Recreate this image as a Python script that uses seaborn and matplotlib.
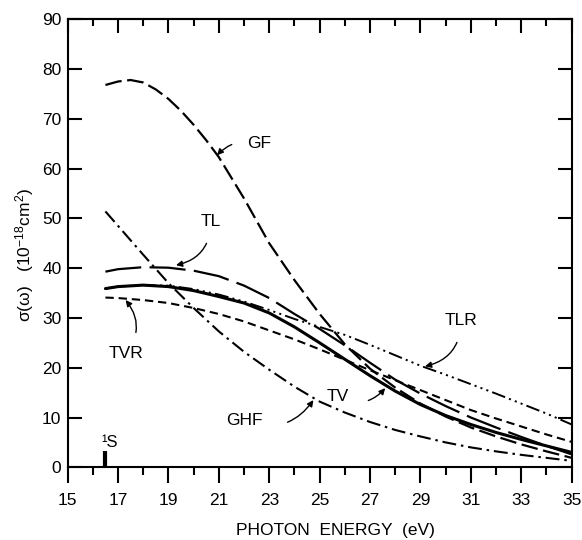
import matplotlib
matplotlib.use("Agg")
import matplotlib.pyplot as plt
import seaborn as sns
import numpy as np
import pandas as pd

# ---- data ----
energy = [16.5, 17, 18, 19, 20, 21, 22, 23, 24, 25, 26, 27, 28, 29, 30, 31, 32, 33, 34, 35]
gf_energy = [16.5, 17, 17.5, 18, 18.5, 19, 19.5, 20, 20.5, 21, 22, 23, 24, 25, 26, 27, 28, 29, 30, 31, 32, 33, 34, 35]
GF  = [76.8, 77.5, 77.8, 77.3, 75.9, 74.0, 71.6, 68.8, 65.7, 62.3, 54.0, 45.0, 37.6, 30.8, 24.7, 19.8, 16.0, 12.8, 10.2, 8.0, 6.2, 4.6, 3.2, 1.9]
TL  = [39.3, 39.8, 40.2, 40.1, 39.5, 38.4, 36.5, 34.0, 30.8, 27.8, 24.5, 21.0, 17.6, 14.8, 12.3, 10.0, 8.0, 6.1, 4.3, 2.6]
TV  = [35.9, 36.3, 36.6, 36.3, 35.5, 34.3, 33.0, 31.0, 28.2, 25.0, 21.7, 18.4, 15.3, 12.6, 10.4, 8.6, 7.0, 5.6, 4.3, 3.0]
TLR = [35.9, 36.3, 36.6, 36.5, 35.8, 34.7, 33.3, 31.6, 29.8, 28.2, 26.6, 24.6, 22.5, 20.4, 18.6, 16.7, 14.8, 12.8, 10.8, 8.6]
TVR = [34.1, 34.0, 33.6, 33.0, 32.0, 30.8, 29.3, 27.5, 25.7, 23.7, 21.6, 19.5, 17.5, 15.5, 13.5, 11.5, 9.8, 8.2, 6.6, 5.1]
GHF = [51.4, 48.5, 42.7, 37.0, 32.0, 27.3, 23.2, 19.6, 16.2, 13.2, 11.0, 9.1, 7.5, 6.2, 5.0, 4.0, 3.2, 2.5, 1.9, 1.3]

series_names = ["GF", "TL", "TV", "TLR", "TVR", "GHF"]
series_x = [gf_energy, energy, energy, energy, energy, energy]
series_values = [GF, TL, TV, TLR, TVR, GHF]

line_x = [16.5]          # 1S threshold marker
line_h = [3.2]

x_ticks = [15, 17, 19, 21, 23, 25, 27, 29, 31, 33, 35]
x_minor = [16, 18, 20, 22, 24, 26, 28, 30, 32, 34]
y_ticks = [0, 10, 20, 30, 40, 50, 60, 70, 80, 90]

# ---- style ----
sns.set_theme(style="white")
plt.rcParams["font.family"] = ["Liberation Sans", "DejaVu Sans"]
plt.rcParams["mathtext.fontset"] = "custom"
plt.rcParams["mathtext.rm"] = "Liberation Sans"
plt.rcParams["mathtext.it"] = "Liberation Sans:italic"
plt.rcParams["lines.scale_dashes"] = False
plt.rcParams["text.color"] = "black"
plt.rcParams["axes.labelcolor"] = "black"
plt.rcParams["xtick.color"] = "black"
plt.rcParams["ytick.color"] = "black"

styles = {
    "GF":  dict(lw=1.6, ls=(0, (12, 4))),
    "TL":  dict(lw=1.6, ls=(0, (26, 6))),
    "TV":  dict(lw=2.2, ls="-"),
    "TLR": dict(lw=1.4, ls=(0, (10, 3, 1.5, 3, 1.5, 3, 1.5, 3))),
    "TVR": dict(lw=1.5, ls=(0, (6, 3.5))),
    "GHF": dict(lw=1.5, ls=(0, (10, 3.5, 1.8, 3.5))),
}

df = pd.concat([pd.DataFrame({"energy": xs, "sigma": ys, "curve": name})
                for name, xs, ys in zip(series_names, series_x, series_values)],
               ignore_index=True)

fig = plt.figure(figsize=(5.82, 5.40), dpi=100)
ax = fig.add_axes([0.1162, 0.1346, 0.8661, 0.8297])

for name in series_names:
    sub = df[df["curve"] == name]
    st = styles[name]
    sns.lineplot(data=sub, x="energy", y="sigma", ax=ax, color="black",
                 linewidth=st["lw"], linestyle=st["ls"], legend=False)

ax.vlines(line_x, 0, line_h, color="black", lw=3)
ax.text(16.32, 5.0, "¹S", fontsize=12, ha="left", va="center", color="black")

ax.set_xlim(15, 35)
ax.set_ylim(0, 90)

for sp in ax.spines.values():
    sp.set_color("black")
    sp.set_linewidth(1.5)

ax.set_xticks(x_ticks)
ax.set_xticks(x_minor, minor=True)
ax.set_yticks(y_ticks)
ax.tick_params(axis="x", which="major", direction="out", length=11.5, width=1.5,
               pad=7, labelsize=12.5, colors="black", bottom=True, top=False)
ax.tick_params(axis="x", which="minor", direction="out", length=5.5, width=1.5,
               bottom=True, top=False)
ax.tick_params(axis="y", which="major", direction="in", length=10, width=1.5,
               pad=4.5, labelsize=12.5, colors="black", left=True, right=True)

top = ax.secondary_xaxis("top")
top.set_xticks(x_ticks)
top.set_xticks(x_minor, minor=True)
top.tick_params(which="major", direction="in", length=10, width=1.5, labeltop=False)
top.tick_params(which="minor", direction="in", length=5, width=1.5, labeltop=False)
top.spines["top"].set_linewidth(1.5)

ax.set_xlabel("PHOTON  ENERGY  (eV)", fontsize=12.5, color="black")
ax.xaxis.set_label_coords(0.532, -0.14)
ax.xaxis.label.set_va("center")
ax.set_ylabel(r"σ(ω)   (10$^{\mathregular{-18}}$cm$^{\mathregular{2}}$)", fontsize=12.5, color="black")
ax.yaxis.set_label_coords(-0.0845, 0.474)
ax.yaxis.label.set_va("center")

arrow = dict(arrowstyle="-|>", color="black", lw=1.0, mutation_scale=9)
lab = dict(fontsize=12.5, ha="center", va="center", color="black")
ax.annotate("GF", xy=(20.93, 62.7), xytext=(22.6, 65.1), **lab,
            arrowprops=dict(connectionstyle="arc3,rad=0.3", shrinkA=9, shrinkB=0, **arrow))
ax.annotate("TL", xy=(19.3, 40.6), xytext=(20.68, 49.3), **lab,
            arrowprops=dict(connectionstyle="arc3,rad=-0.4", shrinkA=8, shrinkB=0, **arrow))
ax.annotate("TVR", xy=(17.3, 33.6), xytext=(17.3, 22.8), **lab,
            arrowprops=dict(connectionstyle="arc3,rad=0.4", shrinkA=8, shrinkB=0, **arrow))
ax.annotate("TLR", xy=(29.18, 20.3), xytext=(30.6, 29.4), **lab,
            arrowprops=dict(connectionstyle="arc3,rad=-0.4", shrinkA=8, shrinkB=0, **arrow))
ax.annotate("TV", xy=(27.6, 15.9), xytext=(25.7, 14.2), **lab,
            arrowprops=dict(connectionstyle="arc3,rad=0.4", shrinkA=12, shrinkB=0, **arrow))
ax.annotate("GHF", xy=(24.75, 13.5), xytext=(22.0, 9.5), **lab,
            arrowprops=dict(connectionstyle="arc3,rad=0.4", shrinkA=16, shrinkB=0, **arrow))

fig.savefig("out.png", dpi=100, facecolor="white")
